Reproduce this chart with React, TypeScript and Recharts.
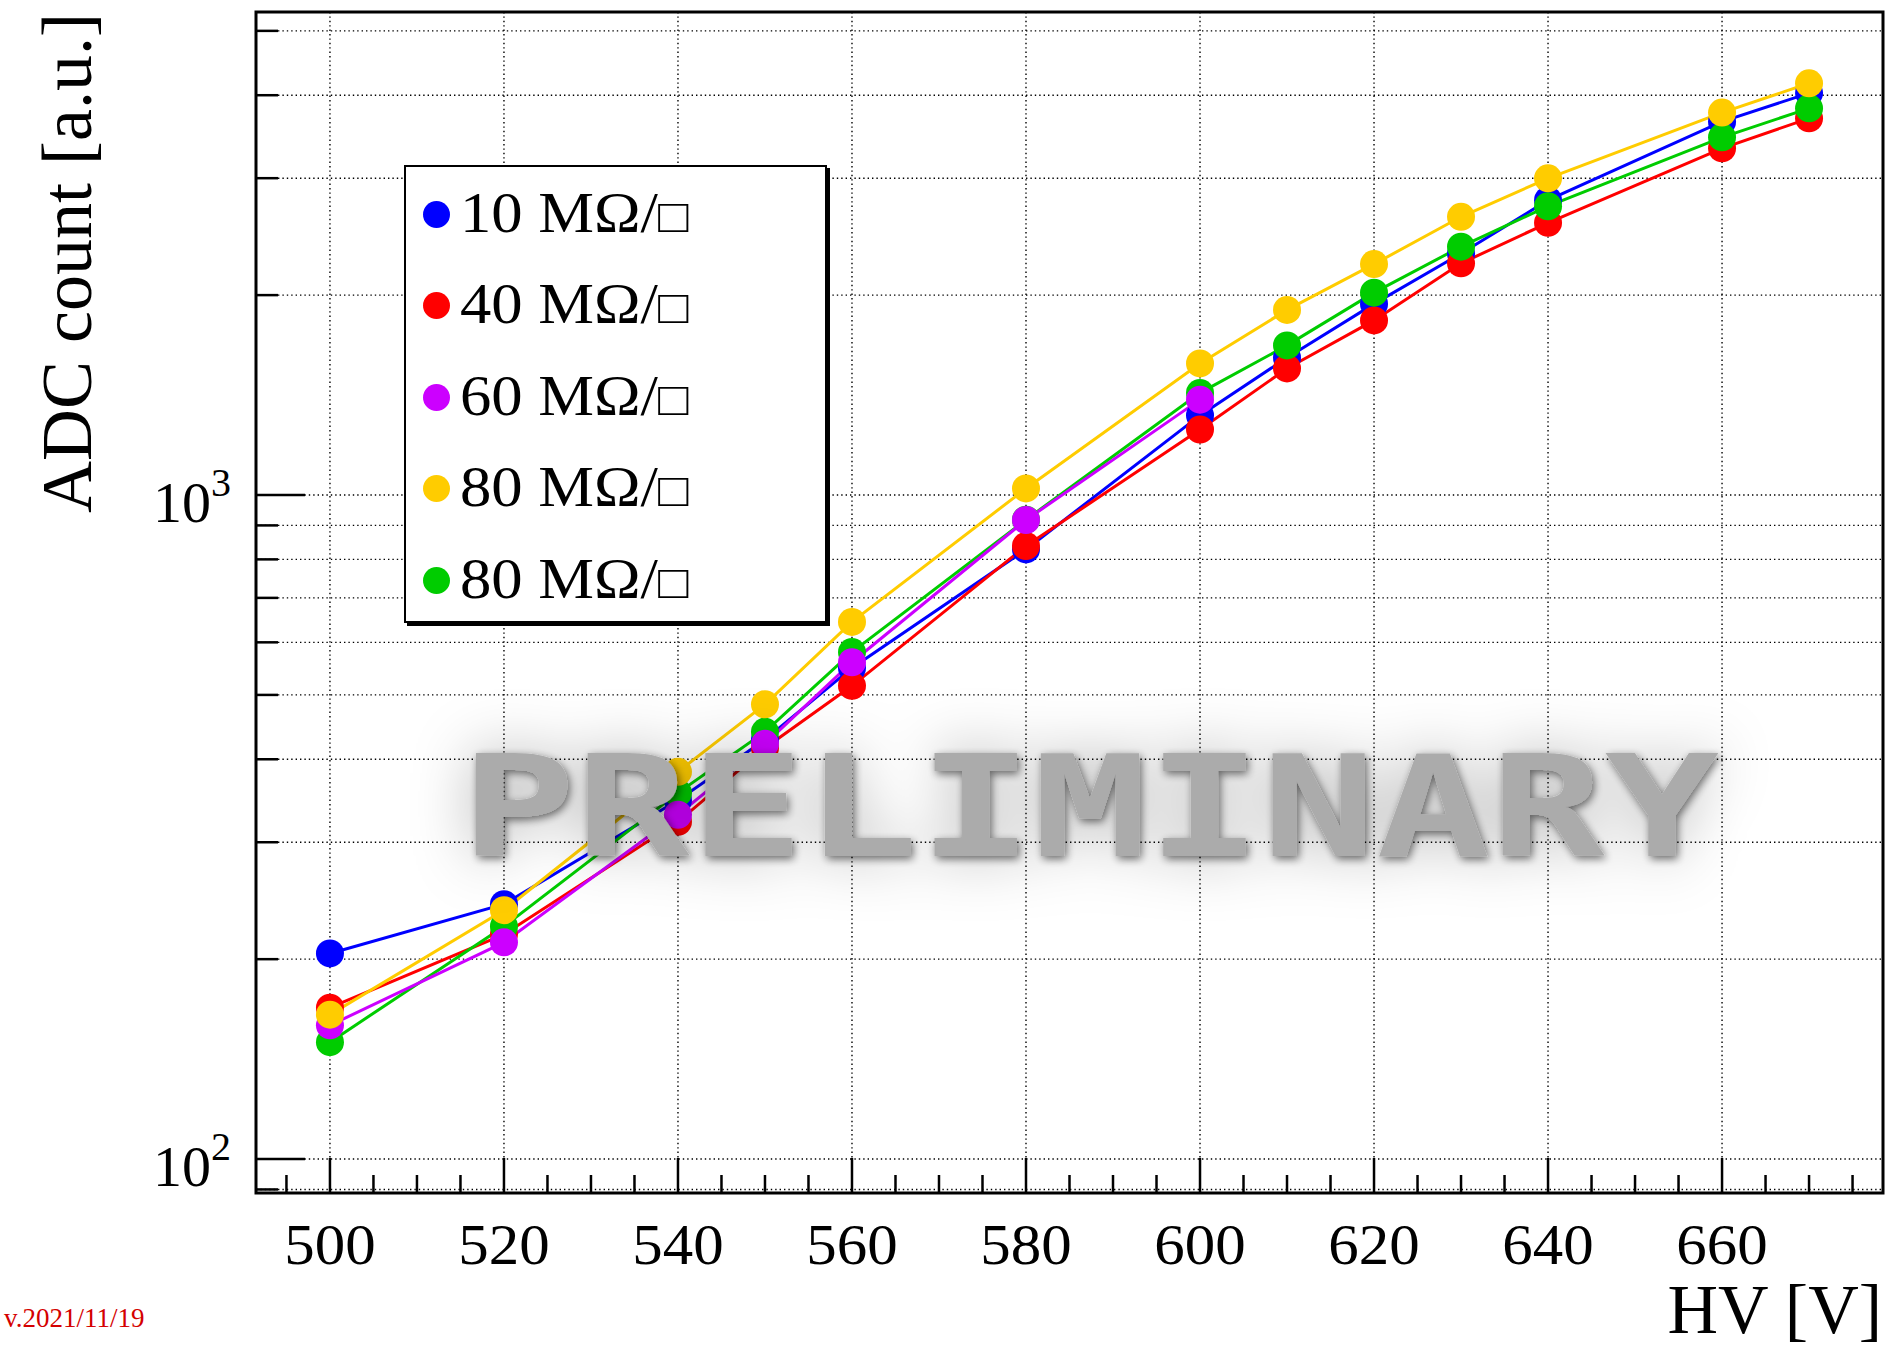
import React from 'react';
import { LineChart, Line, XAxis, YAxis, CartesianGrid, ReferenceArea, Legend } from 'recharts';

// ---- data ----
const HV = [500, 520, 540, 550, 560, 580, 600, 610, 620, 630, 640, 660, 670];
const HV_60 = [500, 520, 540, 550, 560, 580, 600];

const ADC_10 = [204, 242, 347, 428, 549, 828, 1318, 1610, 1940, 2310, 2780, 3650, 4030];
const ADC_40 = [169, 218, 322, 416, 516, 838, 1255, 1551, 1832, 2233, 2570, 3327, 3692];
const ADC_60 = [159, 212, 330, 422, 560, 917, 1392];
const ADC_80A = [165, 237, 383, 484, 644, 1023, 1578, 1900, 2227, 2624, 2999, 3766, 4169];
const ADC_80B = [150, 224, 356, 440, 580, 918, 1425, 1680, 2017, 2366, 2722, 3457, 3822];

const LEGEND_VALUES = ['10', '40', '60', '80', '80'];
const LEGEND_UNIT = ' MΩ/';
const LEGEND_SQUARE = '□';

const X_TICKS = [495, 500, 505, 510, 515, 520, 525, 530, 535, 540, 545, 550, 555, 560, 565, 570, 575, 580, 585,
  590, 595, 600, 605, 610, 615, 620, 625, 630, 635, 640, 645, 650, 655, 660, 665, 670, 675];
const X_MAJOR = [500, 520, 540, 560, 580, 600, 620, 640, 660];
const Y_TICKS = [90, 100, 200, 300, 400, 500, 600, 700, 800, 900, 1000, 2000, 3000, 4000, 5000];
const Y_MAJOR = [100, 1000];

const X_DOMAIN = [491.5, 678.5];
const Y_DOMAIN = [88.9, 5338];

const toPoints = (xs: number[], ys: number[]) => xs.map((x, i) => ({ x, y: ys[i] }));

const SERIES = [
  { id: 's10', value: LEGEND_VALUES[0], color: '#0000ff', data: toPoints(HV, ADC_10) },
  { id: 's40', value: LEGEND_VALUES[1], color: '#ff0000', data: toPoints(HV, ADC_40) },
  { id: 's60', value: LEGEND_VALUES[2], color: '#cc00ff', data: toPoints(HV_60, ADC_60) },
  { id: 's80a', value: LEGEND_VALUES[3], color: '#ffcc00', data: toPoints(HV, ADC_80A) },
  { id: 's80b', value: LEGEND_VALUES[4], color: '#00cc00', data: toPoints(HV, ADC_80B) },
];
const DRAW_ORDER = ['s10', 's40', 's80b', 's60', 's80a'];

const SERIF = '"Liberation Serif", "Times New Roman", "DejaVu Serif", serif';

const XTick = (props: any) => {
  const { x, y, payload } = props;
  const major = X_MAJOR.includes(payload.value);
  return (
    <g>
      <line x1={x} x2={x} y1={y} y2={y - (major ? 35 : 18)} stroke="#000" strokeWidth={2.5} />
      {major && (
        <text
          x={x}
          y={y + 71}
          textAnchor="middle"
          fontFamily={SERIF}
          fontSize={58}
          fill="#000"
          transform={`translate(${x} 0) scale(1.05 1) translate(${-x} 0)`}
        >
          {payload.value}
        </text>
      )}
    </g>
  );
};

const YTick = (props: any) => {
  const { x, y, payload } = props;
  const major = Y_MAJOR.includes(payload.value);
  const exp = Math.round(Math.log10(payload.value));
  return (
    <g>
      <line x1={x} x2={x + (major ? 49 : 22)} y1={y} y2={y} stroke="#000" strokeWidth={2.5} />
      {major && (
        <g>
          <text x={x - 45} y={y + 27} textAnchor="end" fontFamily={SERIF} fontSize={58} fill="#000">10</text>
          <text x={x - 45} y={y + 1} textAnchor="start" fontFamily={SERIF} fontSize={40} fill="#000">{exp}</text>
        </g>
      )}
    </g>
  );
};

const LegendBox = () => (
  <div
    style={{
      width: 423,
      height: 458,
      background: '#fff',
      border: '2.5px solid #000',
      boxShadow: '3px 3px 0 #000',
      boxSizing: 'border-box',
      position: 'relative',
      fontFamily: SERIF,
    }}
  >
    {SERIES.map((s, i) => (
      <div
        key={s.id}
        style={{
          position: 'absolute',
          left: 0,
          top: 47 + i * 91.5 - 35,
          height: 70,
          display: 'flex',
          alignItems: 'center',
        }}
      >
        <span
          style={{
            display: 'inline-block',
            width: 27,
            height: 27,
            borderRadius: '50%',
            background: s.color,
            marginLeft: 17,
            marginRight: 10,
          }}
        />
        <span
          style={{
            fontSize: 58,
            color: '#000',
            lineHeight: '70px',
            whiteSpace: 'pre',
            display: 'inline-block',
            transform: 'scaleX(1.08)',
            transformOrigin: 'left center',
          }}
        >
          {s.value}
          {LEGEND_UNIT}
          <span style={{ fontSize: 47 }}>{LEGEND_SQUARE}</span>
        </span>
      </div>
    ))}
  </div>
);

export default function App() {
  const ordered = DRAW_ORDER.map((id) => SERIES.find((s) => s.id === id)!);
  return (
    <div style={{ position: 'absolute', left: 0, top: 0, width: 1889, height: 1347, background: '#fff' }}>
      <LineChart
        width={1889}
        height={1347}
        margin={{ top: 12, right: 6, bottom: 54, left: 156 }}
      >
        <CartesianGrid
          stroke="#000"
          strokeWidth={1.4}
          strokeDasharray="1.4 3"
          verticalValues={X_MAJOR}
          horizontalValues={Y_TICKS}
        />
        <XAxis
          type="number"
          dataKey="x"
          domain={X_DOMAIN}
          allowDataOverflow
          ticks={X_TICKS}
          interval={0}
          tick={<XTick />}
          tickLine={false}
          axisLine={false}
          tickSize={0}
          tickMargin={0}
          height={100}
        />
        <YAxis
          type="number"
          scale="log"
          domain={Y_DOMAIN}
          allowDataOverflow
          ticks={Y_TICKS}
          interval={0}
          tick={<YTick />}
          tickLine={false}
          axisLine={false}
          tickSize={0}
          tickMargin={0}
          width={100}
        />
        <ReferenceArea
          x1={X_DOMAIN[0]}
          x2={X_DOMAIN[1]}
          y1={Y_DOMAIN[0]}
          y2={Y_DOMAIN[1]}
          fill="none"
          fillOpacity={0}
          stroke="#000"
          strokeWidth={3}
          ifOverflow="visible"
        />
        {ordered.map((s) => (
          <Line
            key={s.id}
            data={s.data}
            dataKey="y"
            name={`${s.value}${LEGEND_UNIT}${LEGEND_SQUARE}`}
            type="linear"
            stroke={s.color}
            strokeWidth={3}
            dot={{ r: 14, fill: s.color, stroke: s.color, strokeWidth: 0 }}
            activeDot={false}
            isAnimationActive={false}
          />
        ))}
        <Legend
          layout="vertical"
          align="center"
          verticalAlign="middle"
          wrapperStyle={{ left: 404, top: 165, width: 426, height: 462 }}
          content={() => <LegendBox />}
        />
      </LineChart>
      <svg
        width={1889}
        height={1347}
        style={{ position: 'absolute', left: 0, top: 0, pointerEvents: 'none' }}
      >
        <defs>
          <filter id="wmGlow" x="-10%" y="-100%" width="120%" height="300%">
            <feGaussianBlur in="SourceAlpha" stdDeviation="30" result="b1" />
            <feFlood floodColor="#000" floodOpacity="0.32" result="f1" />
            <feComposite in="f1" in2="b1" operator="in" result="glow" />
            <feGaussianBlur in="SourceAlpha" stdDeviation="4" result="b2" />
            <feOffset in="b2" dx="2" dy="3" result="o2" />
            <feFlood floodColor="#000" floodOpacity="0.55" result="f2" />
            <feComposite in="f2" in2="o2" operator="in" result="sh" />
            <feMerge>
              <feMergeNode in="glow" />
              <feMergeNode in="sh" />
              <feMergeNode in="SourceGraphic" />
            </feMerge>
          </filter>
        </defs>
        <text
          x={461}
          y={856}
          textLength={1258}
          lengthAdjust="spacingAndGlyphs"
          fontFamily='"DejaVu Sans Mono", monospace'
          fontWeight="bold"
          fontSize={141}
          fill="#ababab"
          filter="url(#wmGlow)"
        >
          PRELIMINARY
        </text>
        <text
          transform="translate(91, 13) rotate(-90)"
          textAnchor="end"
          fontFamily={SERIF}
          fontSize={72}
          fill="#000"
        >
          ADC count [a.u.]
        </text>
        <text x={1882} y={1333} textAnchor="end" fontFamily={SERIF} fontSize={70} fill="#000">
          HV [V]
        </text>
        <text x={4} y={1327} fontFamily={SERIF} fontSize={27} fill="#d40000">
          v.2021/11/19
        </text>
      </svg>
    </div>
  );
}
